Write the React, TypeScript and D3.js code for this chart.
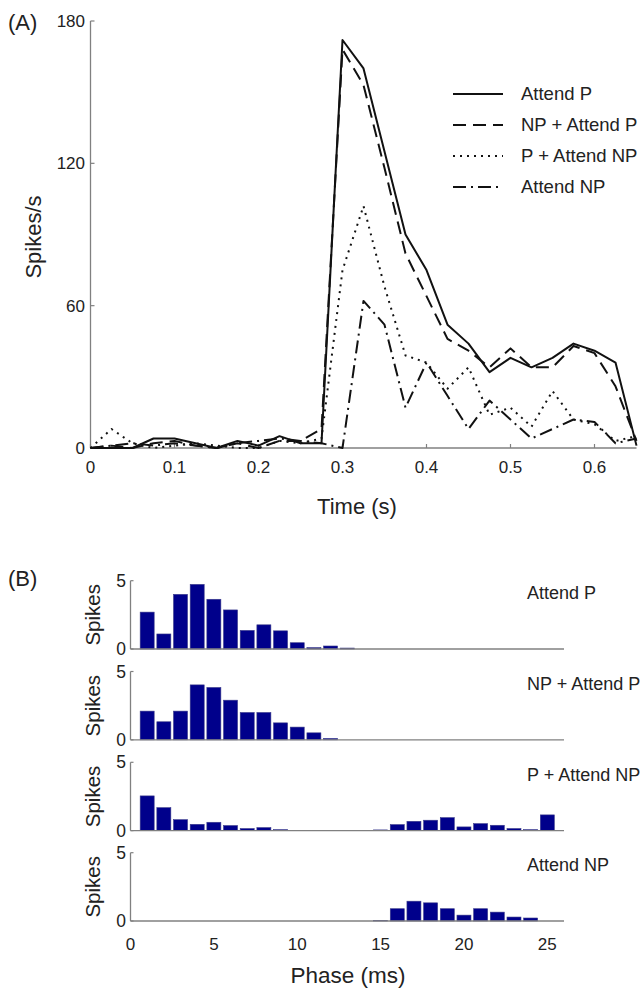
import React from "react";
import * as d3 from "d3";

// panel A: PSTH, 25 ms bins
const timeBins = [0, 0.025, 0.05, 0.075, 0.1, 0.125, 0.15, 0.175, 0.2, 0.225, 0.25, 0.275, 0.3,
	0.325, 0.35, 0.375, 0.4, 0.425, 0.45, 0.475, 0.5, 0.525, 0.55, 0.575, 0.6, 0.625, 0.65];
const rateAttendP = [0, 0, 0, 4, 4, 2, 0, 3, 1, 5, 2, 2, 172, 160, 125, 90, 75, 52, 44, 32, 38, 34, 38, 44, 41, 36, 1];
const rateNpAttendP = [0, 1, 0, 2, 3, 1, 0, 2, 0, 3, 3, 8, 168, 153, 118, 82, 64, 46, 41, 34, 42, 34, 34, 43, 40, 26, 3];
const ratePAttendNp = [0, 8, 2, 0, 1, 2, 1, 0, 0, 3, 2, 4, 75, 102, 68, 39, 36, 25, 34, 14, 17, 9, 24, 12, 10, 3, 5];
const rateAttendNp = [0, 1, 2, 1, 2, 1, 0, 2, 3, 4, 3, 2, 0, 62, 52, 17, 36, 22, 8, 20, 12, 4, 8, 12, 11, 2, 4];
const timeTicks = [0, 0.1, 0.2, 0.3, 0.4, 0.5, 0.6];
const rateTicks = [0, 60, 120, 180];

// panel B: phase histograms, 1 ms bins
const phaseBins = [1, 2, 3, 4, 5, 6, 7, 8, 9, 10, 11, 12, 13, 14, 15, 16, 17, 18, 19, 20, 21, 22, 23, 24, 25];
const histAttendP = [2.7, 1.1, 4.0, 4.73, 3.64, 2.86, 1.36, 1.77, 1.33, 0.46, 0.1, 0.22, 0.07, 0, 0, 0, 0, 0, 0, 0, 0, 0, 0, 0, 0];
const histNpAttendP = [2.1, 1.32, 2.1, 4.02, 3.83, 2.9, 2.0, 2.0, 1.24, 0.93, 0.51, 0.1, 0, 0, 0, 0, 0, 0, 0, 0, 0, 0, 0, 0, 0];
const histPAttendNp = [2.54, 1.68, 0.8, 0.46, 0.61, 0.37, 0.15, 0.22, 0.07, 0, 0, 0, 0, 0, 0.05, 0.44, 0.68, 0.76, 0.95, 0.27, 0.51, 0.39, 0.15, 0.07, 1.15];
const histAttendNp = [0, 0, 0, 0, 0, 0, 0, 0, 0, 0, 0, 0, 0, 0, 0.03, 0.9, 1.45, 1.33, 0.9, 0.43, 0.9, 0.65, 0.29, 0.22, 0];
const phaseTicks = [0, 5, 10, 15, 20, 25];
const spikeTicks = [0, 5];

const conditions = ["Attend P", "NP + Attend P", "P + Attend NP", "Attend NP"];
const dashes = ["none", "13 7", "2 5", "13 5 2 5"];

const FONT = "'Liberation Sans', Arial, sans-serif";
const AXIS = "#808080";
const BAR = "#00008b";

export default function App() {
	// panel A scales
	const x = d3.scaleLinear().domain([0, 0.65]).range([90.5, 636.5]);
	const y = d3.scaleLinear().domain([0, 180]).range([448, 21]);
	const series = [rateAttendP, rateNpAttendP, ratePAttendNp, rateAttendNp];
	const line = d3
		.line<number>()
		.x((d, i) => x(timeBins[i]))
		.y((d) => y(d));

	// panel B scales
	const px = d3.scaleLinear().domain([0, 26]).range([130.5, 564]);
	const hists = [histAttendP, histNpAttendP, histPAttendNp, histAttendNp];
	const panelTops = [580.7, 671.5, 762.3, 852.7];
	const panelH = 68.3;
	const barW = px(0.84) - px(0);

	return (
		<svg width={644} height={991} style={{ position: "absolute", left: 0, top: 0, background: "#fff" }} fontFamily={FONT}>
			<text x={8} y={29.5} fontSize={22} fill="#222">(A)</text>

			{/* axes A */}
			<line x1={x(0)} x2={x(0)} y1={y(180)} y2={y(0)} stroke={AXIS} strokeWidth={1.3} />
			<line x1={x(0)} x2={x(0.65)} y1={y(0)} y2={y(0)} stroke={AXIS} strokeWidth={1.3} />
			{rateTicks.map((t) => (
				<g key={"yt" + t}>
					<line x1={x(0)} x2={x(0) + 4} y1={y(t)} y2={y(t)} stroke={AXIS} strokeWidth={1.2} />
					<text x={85} y={y(t)} dy="0.35em" textAnchor="end" fontSize={17} fill="#222">{t}</text>
				</g>
			))}
			{timeTicks.map((t) => (
				<g key={"xt" + t}>
					<line x1={x(t)} x2={x(t)} y1={y(0)} y2={y(0) - 4} stroke={AXIS} strokeWidth={1.2} />
					<text x={x(t)} y={467} dy="0.35em" textAnchor="middle" fontSize={17} fill="#222">{t}</text>
				</g>
			))}
			<text x={357} y={506} dy="0.35em" textAnchor="middle" fontSize={22} fill="#222">Time (s)</text>
			<text transform="translate(33,237) rotate(-90)" dy="0.35em" textAnchor="middle" fontSize={22} fill="#222">Spikes/s</text>

			{series.map((s, k) => (
				<path key={"s" + k} d={line(s) || ""} fill="none" stroke="#111" strokeWidth={2}
					strokeDasharray={dashes[k]} strokeLinejoin="round" />
			))}

			{/* legend */}
			{conditions.map((c, k) => (
				<g key={"lg" + k} transform={`translate(0,${94 + k * 31})`}>
					<line x1={453} x2={503} y1={0} y2={0} stroke="#111" strokeWidth={2} strokeDasharray={dashes[k]} />
					<text x={521} y={0} dy="0.35em" fontSize={18.5} fill="#222">{c}</text>
				</g>
			))}

			<text x={8} y={585.5} fontSize={22} fill="#222">(B)</text>

			{hists.map((h, k) => {
				const top = panelTops[k];
				const py = d3.scaleLinear().domain([0, 5]).range([top + panelH, top]);
				return (
					<g key={"p" + k}>
						{h.map((v, i) => (
							v > 0 ? (
								<rect key={i} x={px(phaseBins[i]) - barW / 2} y={py(v)} width={barW}
									height={py(0) - py(v)} fill={BAR} stroke="#3a3a8a" strokeWidth={0.6} />
							) : null
						))}
						<line x1={px(0)} x2={px(0)} y1={py(5)} y2={py(0)} stroke={AXIS} strokeWidth={1.3} />
						<line x1={px(0)} x2={px(26)} y1={py(0)} y2={py(0)} stroke={AXIS} strokeWidth={1.3} />
						{spikeTicks.map((t) => (
							<g key={"st" + t}>
								<line x1={px(0)} x2={px(0) + 3} y1={py(t)} y2={py(t)} stroke={AXIS} strokeWidth={1.2} />
								<text x={126} y={py(t)} dy="0.35em" textAnchor="end" fontSize={17.5} fill="#222">{t}</text>
							</g>
						))}
						<text transform={`translate(93,${top + panelH / 2}) rotate(-90)`} dy="0.35em" textAnchor="middle"
							fontSize={20.5} fill="#222">Spikes</text>
						<text x={527} y={top + 12} dy="0.35em" fontSize={18} fill="#222">{conditions[k]}</text>
					</g>
				);
			})}
			{phaseTicks.map((t) => (
				<text key={"pt" + t} x={px(t)} y={944} dy="0.35em" textAnchor="middle" fontSize={17} fill="#222">{t}</text>
			))}
			<text x={348} y={975} dy="0.35em" textAnchor="middle" fontSize={22.5} fill="#222">Phase (ms)</text>
		</svg>
	);
}
